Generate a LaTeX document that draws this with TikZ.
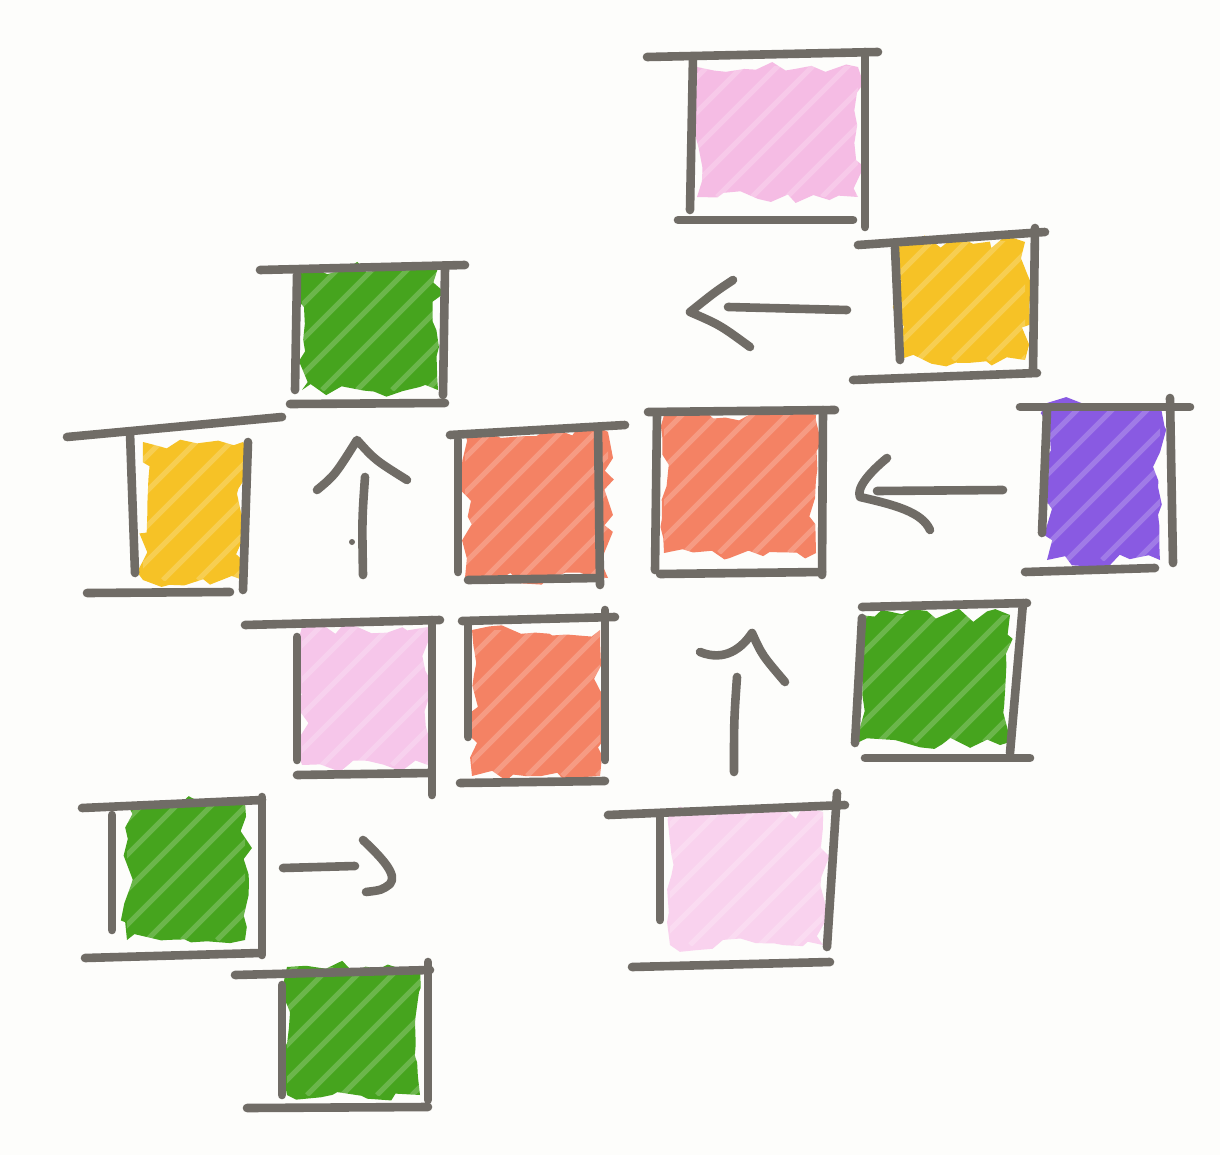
\documentclass[tikz,border=0pt]{standalone}
\usetikzlibrary{decorations.pathmorphing,calc}
\definecolor{inkgray}{RGB}{112,108,102}
\definecolor{pinkA}{RGB}{245,188,228}
\definecolor{pinkB}{RGB}{246,198,234}
\definecolor{pinkC}{RGB}{249,210,238}
\definecolor{yellowc}{RGB}{246,194,38}
\definecolor{greenc}{RGB}{70,164,30}
\definecolor{redc}{RGB}{244,130,100}
\definecolor{purplec}{RGB}{137,90,226}
\definecolor{paper}{RGB}{253,253,251}
\tikzset{
  ink/.style={draw=inkgray, line width=4.3pt, line cap=round, line join=round},
  scrib/.style={decorate, decoration={random steps, segment length=7pt, amplitude=3.5pt}},
}
\newcommand\swatch[5]{%
  \begin{scope}
    \fill[#1, scrib] (#2,#3) rectangle (#4,#5);
    \clip (#2,#3) rectangle (#4,#5);
    \foreach \k in {-120,-85,...,200} {
      \draw[white, opacity=0.2, line width=2.5pt]
        ($(#2,#5)+(\k,0)$) -- ++(160,-160);
    }
  \end{scope}}
\newcommand\sketchbox[8]{%
  \draw[ink] #1 -- #2;
  \draw[ink] #3 -- #4;
  \draw[ink] #5 -- #6;
  \draw[ink] #7 -- #8;}
\begin{document}
\begin{tikzpicture}[x=0.5pt,y=-0.5pt]
\pgfmathsetseed{11}
\fill[paper] (0,0) rectangle (1220,1155);
\useasboundingbox (0,0) rectangle (1220,1155);

% colour fills
\swatch{pinkA}{697}{67}{858}{197}
\swatch{yellowc}{898}{242}{1025}{360}
\swatch{greenc}{302}{268}{438}{390}
\swatch{yellowc}{143}{442}{243}{580}
\swatch{redc}{465}{432}{608}{578}
\swatch{redc}{664}{415}{816}{553}
\swatch{purplec}{1047}{403}{1160}{560}
\swatch{pinkB}{302}{627}{428}{765}
\swatch{redc}{472}{630}{600}{776}
\swatch{greenc}{859}{615}{1010}{742}
\swatch{greenc}{127}{803}{245}{940}
\swatch{pinkC}{670}{812}{823}{945}
\swatch{greenc}{287}{967}{420}{1095}

% box outlines
\sketchbox{(647,57)}{(878,52)}{(693,57)}{(690,210)}{(865,52)}{(865,227)}{(678,220)}{(853,220)}
\sketchbox{(858,245)}{(1045,232)}{(895,248)}{(900,360)}{(1035,228)}{(1033,370)}{(853,380)}{(1037,373)}
\sketchbox{(260,270)}{(465,265)}{(297,275)}{(295,390)}{(445,268)}{(443,395)}{(290,404)}{(445,403)}
\sketchbox{(67,437)}{(282,417)}{(130,433)}{(135,573)}{(248,442)}{(243,590)}{(87,593)}{(230,592)}
\sketchbox{(450,435)}{(625,425)}{(458,440)}{(458,572)}{(598,427)}{(600,585)}{(468,580)}{(600,578)}
\sketchbox{(648,412)}{(835,410)}{(657,414)}{(655,570)}{(823,410)}{(822,575)}{(660,574)}{(822,572)}
\sketchbox{(1020,407)}{(1190,407)}{(1047,410)}{(1042,533)}{(1170,398)}{(1173,563)}{(1025,572)}{(1155,568)}
\sketchbox{(245,625)}{(440,620)}{(297,637)}{(297,760)}{(432,620)}{(432,795)}{(297,775)}{(430,773)}
\sketchbox{(462,621)}{(615,617)}{(468,622)}{(468,737)}{(605,610)}{(605,760)}{(460,783)}{(605,781)}
\sketchbox{(862,607)}{(1027,603)}{(862,618)}{(855,743)}{(1023,603)}{(1010,753)}{(865,758)}{(1030,758)}
\sketchbox{(82,808)}{(262,800)}{(112,815)}{(112,930)}{(262,797)}{(262,955)}{(85,958)}{(260,953)}
\sketchbox{(608,815)}{(845,805)}{(660,817)}{(660,920)}{(837,793)}{(827,947)}{(632,967)}{(830,962)}
\sketchbox{(235,975)}{(430,970)}{(282,985)}{(282,1095)}{(428,962)}{(428,1100)}{(247,1108)}{(428,1107)}

% hand-drawn arrows
\draw[ink] (847,310) -- (728,307);
\draw[ink] (733,280) .. controls (715,292) .. (690,312) .. controls (720,325) .. (750,347);
\draw[ink] (1003,490) -- (877,491);
\draw[ink] (887,458) .. controls (870,472) and (856,488) .. (860,497) .. controls (895,505) and (922,512) .. (930,530);
\draw[ink] (365,477) .. controls (362,520) .. (363,575);
\draw[ink] (317,490) .. controls (335,475) .. (357,440) .. controls (375,460) .. (407,480);
\fill[inkgray] (352,542) circle (3);
\draw[ink] (737,677) .. controls (734,720) .. (734,772);
\draw[ink] (700,652) .. controls (725,662) and (742,648) .. (752,633) .. controls (762,655) .. (785,682);
\draw[ink] (283,868) -- (355,866);
\draw[ink] (363,840) .. controls (382,858) and (398,875) .. (390,884) .. controls (382,890) .. (366,892);
\end{tikzpicture}
\end{document}
